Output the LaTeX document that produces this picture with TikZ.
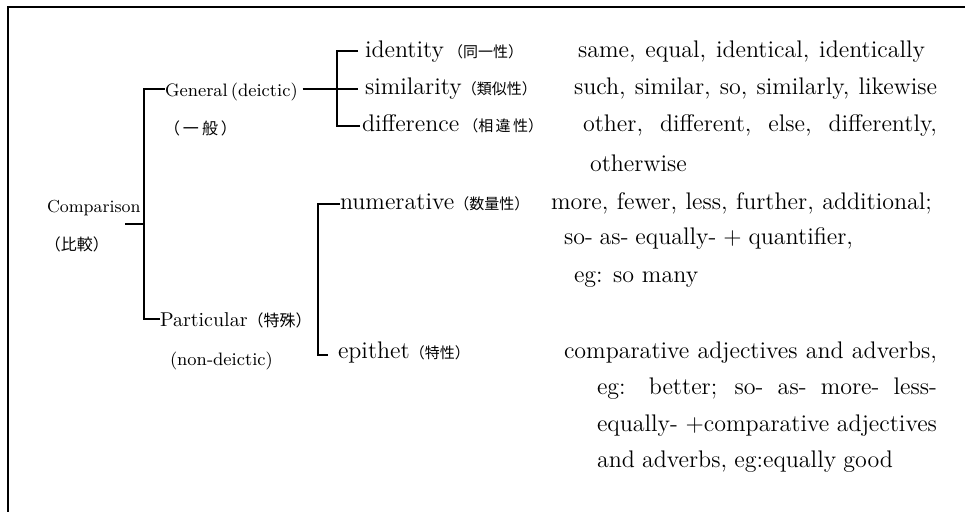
\documentclass[tikz,border=0pt]{standalone}
\usepackage{fontspec}
\newfontfamily\cjkjp{Noto Sans CJK JP}
\usetikzlibrary{calc}
\newcommand\cjsmall[1]{{\cjkjp\fontsize{7.5}{9}\selectfont #1}}
\newcommand\cjlarge[1]{{\cjkjp\fontsize{8}{10}\selectfont #1}}
\begin{document}
\begin{tikzpicture}[x=0.5pt,y=-0.5pt,
  every node/.style={inner sep=0pt, outer sep=0pt, anchor=base west},
  lab/.style={font=\fontsize{9}{11}\selectfont},
  labsm/.style={font=\fontsize{8.7}{11}\selectfont},
  labbig/.style={font=\fontsize{10}{12}\selectfont},
  mid/.style={font=\fontsize{12}{14}\selectfont},
  txt/.style={font=\fontsize{12}{14}\selectfont},
  br/.style={line width=1.1pt},
  frame/.style={line width=1.4pt}]
\useasboundingbox (0,0) rectangle (965,512);
\draw[frame] (8,514) -- (8,7) -- (967,7);

% left labels
\node[labsm] (comp) at (47,213) {Comparison};
\node[lab] (compj) at (45,251) {\cjlarge{（比較）}};
\node[lab] (gen) at (165,97) {General\,(deictic)};
\node[lab] (genj) at (164,135) {\cjlarge{（\hspace{1.5pt}一\hspace{1.5pt}般\hspace{1.5pt}）}};
\node[labbig] (part) at (160,327) {Particular\cjlarge{（特殊）}};
\node[lab] (nond) at (170,366) {(non-deictic)};

% middle labels
\node[mid] (iden) at (365,58) {identity\hspace{2pt}\cjsmall{（同一性）}};
\node[mid] (simi) at (365,95) {similarity\cjsmall{（類似性）}};
\node[mid] (diff) at (362,132) {difference\hspace{2pt}\cjsmall{（相\,違\,性）}};
\node[mid] (nume) at (340,210) {numerative\cjsmall{（数量性）}};
\node[mid] (epit) at (338,359) {epithet\cjsmall{（特性）}};

% right column
\node[txt] (r1) at (578,58) {\makebox[173.5pt][s]{same, equal, identical, identically}};
\node[txt] (r2) at (574,95) {\makebox[181.5pt][s]{such, similar, so, similarly, likewise}};
\node[txt] (r3) at (583,132) {\makebox[177pt][s]{other, different, else, differently,}};
\node[txt] (r4) at (590,172) {otherwise};
\node[txt] (r5) at (551,210) {\makebox[190.5pt][s]{more, fewer, less, further, additional;}};
\node[txt] (r6) at (564,245) {\makebox[144.5pt][s]{so- as- equally- + quantifier,}};
\node[txt] (r7) at (574,283) {eg: so many};
\node[txt] (r8) at (564,359) {\makebox[186.5pt][s]{comparative adjectives and adverbs,}};
\node[txt] (r9) at (597,395) {\makebox[170pt][s]{eg: better; so- as- more- less-}};
\node[txt] (r10) at (597,432) {\makebox[170pt][s]{equally- +comparative adjectives}};
\node[txt] (r11) at (597,468) {\makebox[148pt][s]{and adverbs, eg:equally good}};

% bracket spines and free ends
\coordinate (v0) at (144,0);
\coordinate (v1) at (337,0);
\coordinate (v2) at (318,0);
\coordinate (cstub) at (125,224);

% connection points
\coordinate (g) at ([yshift=4pt]gen.base west);
\coordinate (ge) at ([xshift=2.5pt,yshift=4pt]gen.base east);
\coordinate (p) at ([yshift=4pt]part.base west);
\coordinate (id) at ([xshift=-3.5pt,yshift=3.5pt]iden.base west);
\coordinate (si) at ([xshift=-3.5pt,yshift=3pt]simi.base west);
\coordinate (di) at ([xshift=-1pt,yshift=3pt]diff.base west);
\coordinate (nu) at ([yshift=3pt]nume.base west);
\coordinate (ep) at ([xshift=-5pt,yshift=2pt]epit.base west);

% connectors
\draw[br] (cstub) -- (cstub -| v0);
\draw[br] (g) -- (g -| v0) -- (p -| v0) -- (p);
\draw[br] (ge |- si) -- (si);
\draw[br] (id) -- (id -| v1) -- (di -| v1) -- (di);
\draw[br] (nu) -- (nu -| v2) -- (ep -| v2) -- (ep);
\end{tikzpicture}
\end{document}
